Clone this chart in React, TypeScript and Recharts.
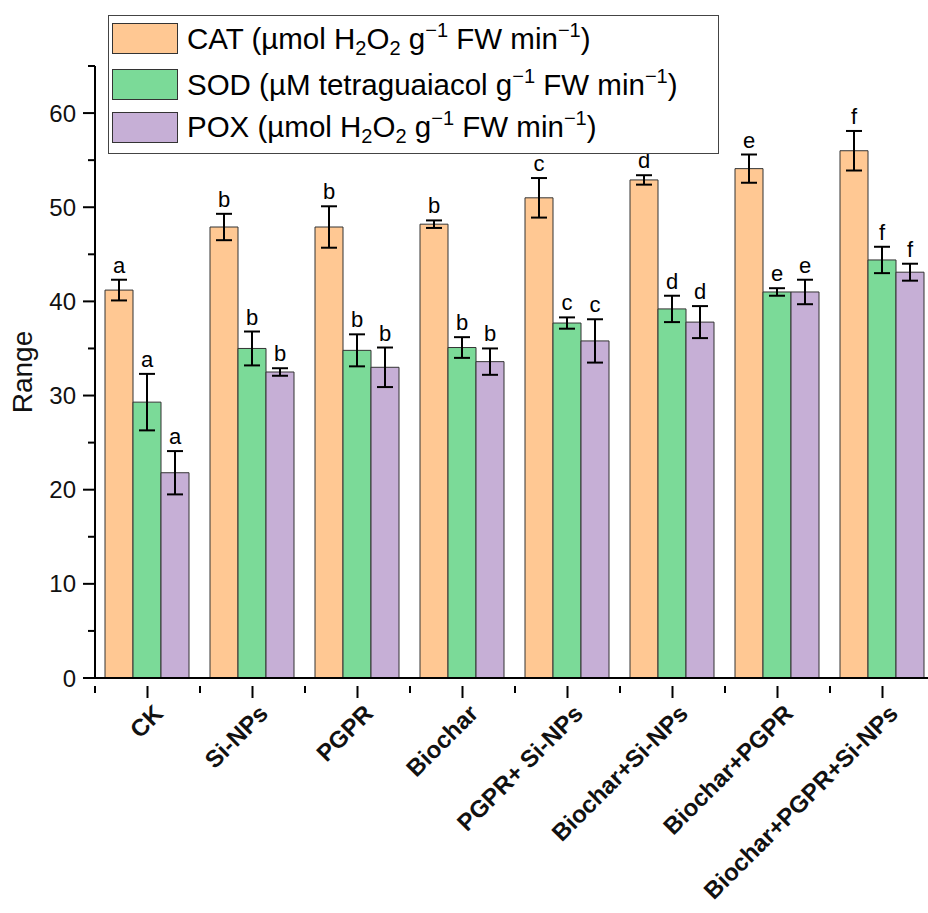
import React from 'react';
import { BarChart, Bar, XAxis, YAxis, ErrorBar, LabelList, Legend } from 'recharts';

const categories = ['CK', 'Si-NPs', 'PGPR', 'Biochar', 'PGPR+ Si-NPs', 'Biochar+Si-NPs', 'Biochar+PGPR', 'Biochar+PGPR+Si-NPs'];

const catValues = [41.2, 47.9, 47.9, 48.2, 51.0, 52.9, 54.1, 56.0];
const catErrors = [1.1, 1.4, 2.2, 0.4, 2.1, 0.5, 1.5, 2.1];
const catLetters = ['a', 'b', 'b', 'b', 'c', 'd', 'e', 'f'];

const sodValues = [29.3, 35.0, 34.8, 35.1, 37.7, 39.2, 41.0, 44.4];
const sodErrors = [3.0, 1.8, 1.7, 1.1, 0.6, 1.4, 0.4, 1.4];
const sodLetters = ['a', 'b', 'b', 'b', 'c', 'd', 'e', 'f'];

const poxValues = [21.8, 32.5, 33.0, 33.6, 35.8, 37.8, 41.0, 43.1];
const poxErrors = [2.3, 0.4, 2.1, 1.4, 2.3, 1.7, 1.3, 0.9];
const poxLetters = ['a', 'b', 'b', 'b', 'c', 'd', 'e', 'f'];

const yTicks = [0, 5, 10, 15, 20, 25, 30, 35, 40, 45, 50, 55, 60, 65];

const seriesOrder = ['cat', 'sod', 'pox'];
const COLORS = { cat: '#FFC893', sod: '#7BDA98', pox: '#C6AFD6' };
const FONT = 'Arial, "Liberation Sans", Helvetica, sans-serif';

const data = categories.map((name, i) => ({
  name,
  cat: catValues[i],
  catErr: catErrors[i],
  catLetter: catLetters[i],
  sod: sodValues[i],
  sodErr: sodErrors[i],
  sodLetter: sodLetters[i],
  pox: poxValues[i],
  poxErr: poxErrors[i],
  poxLetter: poxLetters[i],
}));

// letter sits just above the top of the error bar
const makeLetter = (key: 'cat' | 'sod' | 'pox') => (props: any) => {
  const { x, y, width, height, index } = props;
  const row = data[index];
  const v = row[key] as number;
  const err = row[(key + 'Err') as 'catErr'] as number;
  const pxPerUnit = height / v;
  const top = y - err * pxPerUnit;
  return (
    <text x={x + width / 2} y={top - 7} textAnchor="middle" fontSize={22} fontFamily={FONT} fill="#000">
      {row[(key + 'Letter') as 'catLetter']}
    </text>
  );
};

const YTick = (props: any) => {
  const { x, y, payload } = props;
  const major = payload.value % 10 === 0;
  return (
    <g>
      <line x1={x - (major ? 12 : 7)} x2={x} y1={y} y2={y} stroke="#000" strokeWidth={2} />
      {major && (
        <text x={x - 19} y={y} dy="0.36em" textAnchor="end" fontSize={24} fontFamily={FONT} fill="#111">
          {payload.value}
        </text>
      )}
    </g>
  );
};

const XTick = (props: any) => {
  const { x, y, payload } = props;
  const half = payload.offset ?? 52.5;
  const tx = x + 17;
  const ty = y + 29;
  return (
    <g>
      <line x1={x} x2={x} y1={y} y2={y + 12} stroke="#000" strokeWidth={2} />
      <line x1={x - half} x2={x - half} y1={y} y2={y + 7} stroke="#000" strokeWidth={2} />
      <line x1={x + half} x2={x + half} y1={y} y2={y + 7} stroke="#000" strokeWidth={2} />
      <text
        x={tx}
        y={ty}
        textAnchor="end"
        transform={`rotate(-45, ${tx}, ${ty})`}
        fontSize={24}
        fontWeight="bold"
        fontFamily={FONT}
        fill="#111"
      >
        {payload.value}
      </text>
    </g>
  );
};

const legendLabels: Record<string, React.ReactNode> = {
  cat: (
    <>
      CAT (µmol H<sub>2</sub>O<sub>2</sub> g<sup>−1</sup> FW min<sup>−1</sup>)
    </>
  ),
  sod: (
    <>
      SOD (µM tetraguaiacol g<sup>−1</sup> FW min<sup>−1</sup>)
    </>
  ),
  pox: (
    <>
      POX (µmol H<sub>2</sub>O<sub>2</sub> g<sup>−1</sup> FW min<sup>−1</sup>)
    </>
  ),
};

const rowHeights = [45, 47, 38];

const LegendBox = (props: any) => {
  const items = [...(props.payload || [])].sort(
    (a: any, b: any) => seriesOrder.indexOf(a.dataKey) - seriesOrder.indexOf(b.dataKey)
  );
  return (
    <div
      style={{
        width: 611,
        height: 139,
        border: '1.5px solid #444',
        background: '#fff',
        boxSizing: 'border-box',
        padding: '0 0 0 3px',
        fontFamily: FONT,
        fontSize: 29.5,
        color: '#000',
      }}
    >
      {items.map((p: any, i: number) => (
        <div key={p.dataKey} style={{ display: 'flex', alignItems: 'center', height: rowHeights[i], lineHeight: 1 }}>
          <span
            style={{
              display: 'inline-block',
              width: 66,
              height: 31,
              background: p.color,
              border: '1.5px solid #333',
              boxSizing: 'border-box',
              marginRight: 9,
              flexShrink: 0,
            }}
          />
          <span style={{ whiteSpace: 'nowrap' }}>{legendLabels[p.dataKey]}</span>
        </div>
      ))}
    </div>
  );
};

export default function App() {
  return (
    <div style={{ position: 'absolute', left: 0, top: 0, width: 928, height: 913, overflow: 'hidden', background: '#fff' }}>
      <style>{`sub,sup{font-size:0.68em;line-height:0;} sub{vertical-align:-0.3em;} sup{vertical-align:0.62em;}`}</style>
      <BarChart
        width={945}
        height={913}
        data={data}
        margin={{ top: 66, right: 10, bottom: 35, left: 35 }}
        barCategoryGap={10}
        barGap={0}
      >
        <XAxis
          dataKey="name"
          interval={0}
          height={200}
          axisLine={{ stroke: '#000', strokeWidth: 2 }}
          tickLine={false}
          tick={<XTick />}
        />
        <YAxis
          type="number"
          domain={[0, 65]}
          ticks={yTicks}
          interval={0}
          width={60}
          tickSize={0}
          tickMargin={0}
          axisLine={{ stroke: '#000', strokeWidth: 2 }}
          tickLine={false}
          tick={<YTick />}
          label={{ value: 'Range', angle: -90, position: 'insideLeft', offset: -13, style: { fontSize: 28, fontFamily: FONT, fill: '#111', textAnchor: 'middle' } }}
        />
        <Legend
          layout="vertical"
          align="center"
          verticalAlign="middle"
          content={<LegendBox />}
          wrapperStyle={{ top: 15, left: 108, width: 611, height: 139 }}
        />
        <Bar dataKey="cat" fill={COLORS.cat} stroke="#333" strokeWidth={1} isAnimationActive={false}>
          <ErrorBar dataKey="catErr" width={8} stroke="#000" strokeWidth={2} />
          <LabelList dataKey="cat" content={makeLetter('cat')} />
        </Bar>
        <Bar dataKey="sod" fill={COLORS.sod} stroke="#333" strokeWidth={1} isAnimationActive={false}>
          <ErrorBar dataKey="sodErr" width={8} stroke="#000" strokeWidth={2} />
          <LabelList dataKey="sod" content={makeLetter('sod')} />
        </Bar>
        <Bar dataKey="pox" fill={COLORS.pox} stroke="#333" strokeWidth={1} isAnimationActive={false}>
          <ErrorBar dataKey="poxErr" width={8} stroke="#000" strokeWidth={2} />
          <LabelList dataKey="pox" content={makeLetter('pox')} />
        </Bar>
      </BarChart>
    </div>
  );
}
